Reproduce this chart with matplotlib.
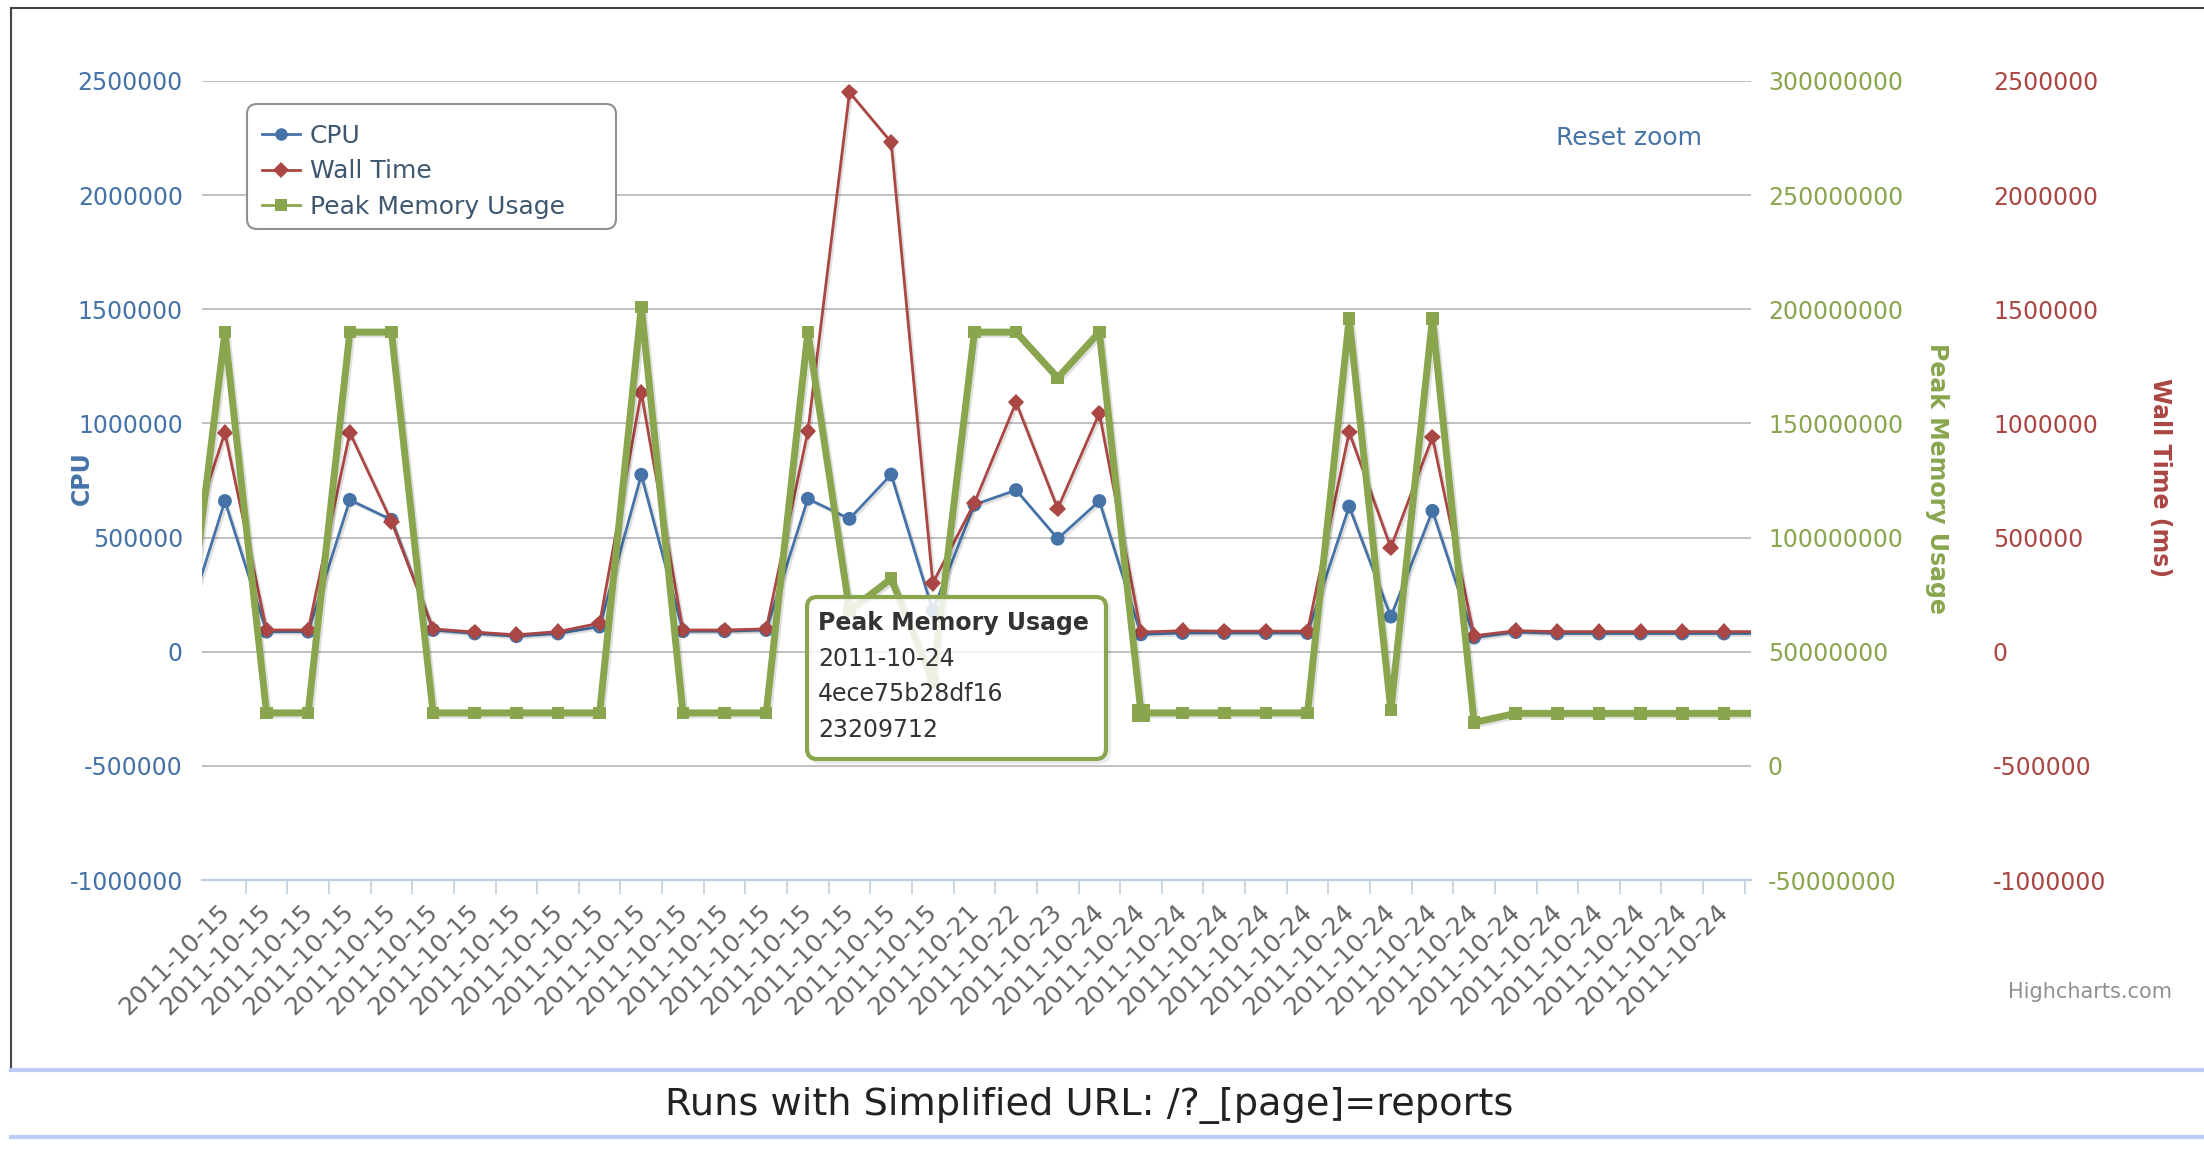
import numpy as np
import matplotlib
matplotlib.use('Agg')
import matplotlib.pyplot as plt
import matplotlib.patheffects as pe
import matplotlib.transforms as mtransforms
from matplotlib.patches import FancyBboxPatch
from matplotlib.lines import Line2D
from matplotlib.ticker import FuncFormatter

# zoomed window shows categories 0..36, plus one point either side (partly visible)
dates = ['2011-10-15'] * 19 + ['2011-10-21', '2011-10-22', '2011-10-23'] + ['2011-10-24'] * 17

cpu = [80000,
       660000, 88000, 88000, 665000, 578000, 95000, 80000, 68000, 80000, 110000,
       775000, 90000, 90000, 95000, 670000, 582000, 776000, 180000, 644000, 708000,
       495000, 660000, 76000, 82000, 82000, 82000, 82000, 636000, 154000, 617000,
       62000, 86000, 80000, 80000, 80000, 80000, 80000,
       80000]

wall_time = [400000,
             960000, 95000, 95000, 960000, 570000, 100000, 86000, 74000, 88000, 125000,
             1135000, 95000, 95000, 100000, 965000, 2450000, 2232000, 300000, 652000, 1092000,
             627000, 1045000, 86000, 92000, 90000, 90000, 90000, 962000, 456000, 940000,
             70000, 92000, 88000, 88000, 88000, 88000, 88000,
             88000]

peak_mem = [40000000,
            190000000, 23209712, 23209712, 190000000, 190000000, 23209712, 23209712, 23209712, 23209712, 23209712,
            201000000, 23209712, 23209712, 23209712, 190000000, 68000000, 82000000, 37000000, 190000000, 190000000,
            170000000, 190000000, 23209712, 23209712, 23209712, 23209712, 23209712, 196000000, 24500000, 196000000,
            19000000, 23000000, 23000000, 23000000, 23000000, 23000000, 23000000,
            23000000]

hover_idx = 22          # category of the hovered point
hover_run = '4ece75b28df16'

x = np.arange(-1, len(cpu) - 1)

BLUE = '#4572A7'
RED = '#AA4643'
GREEN = '#89A54E'

W, H = 2204, 1154
fig = plt.figure(figsize=(W / 100, H / 100), dpi=100)
plt.rcParams['font.family'] = ['DejaVu Sans']

L, R, T, B = 202, 1751, 81, 880
ax = fig.add_axes([L / W, 1 - B / H, (R - L) / W, (B - T) / H])
ax_wall = ax.twinx()
ax_mem = ax.twinx()
ax.set_zorder(1)
ax_wall.set_zorder(2)
ax_mem.set_zorder(3)

shadow = [pe.SimpleLineShadow(offset=(1.5, -1.5), shadow_color='black', alpha=0.12), pe.Normal()]

ax.plot(x, cpu, color=BLUE, lw=2, marker='o', ms=10, mew=0, path_effects=shadow)
ax_wall.plot(x, wall_time, color=RED, lw=2, marker='D', ms=8.5, mew=0, path_effects=shadow)
ax_mem.plot(x, peak_mem, color=GREEN, lw=5, marker='s', ms=9, mew=0, path_effects=shadow)
ax_mem.plot(x[hover_idx + 1], peak_mem[hover_idx + 1], color=GREEN, marker='s', ms=13, mew=0)

for a in (ax, ax_wall, ax_mem):
    for s in a.spines.values():
        s.set_visible(False)

int_fmt = FuncFormatter(lambda v, p: '%d' % v)

ax.set_ylim(-1000000, 2500000)
ax.set_yticks(np.arange(-1000000, 2500001, 500000))
ax.yaxis.set_major_formatter(int_fmt)
ax.tick_params(axis='y', length=0, pad=13.7, labelsize=17, labelcolor=BLUE)
ax.grid(axis='y', color='#C0C0C0', lw=1.4)
ax.set_axisbelow(True)
ax.spines['bottom'].set_visible(True)
ax.spines['bottom'].set_color('#C0D0E0')
ax.spines['bottom'].set_linewidth(1.6)
ax.spines['bottom'].set_zorder(3)

ax.set_xticks(x)
ax.set_xticklabels(dates)
ax.set_xticks(np.arange(0.5, 37, 1), minor=True)
ax.tick_params(axis='x', which='major', length=0, pad=14, labelsize=18, labelcolor='#666666')
ax.tick_params(axis='x', which='minor', length=10, width=1.2, color='#C0D0E0')
shift = mtransforms.ScaledTranslation(-0.08, 0, fig.dpi_scale_trans)
for lab in ax.get_xticklabels():
    lab.set_rotation(45)
    lab.set_ha('right')
    lab.set_va('top')
    lab.set_rotation_mode('anchor')
    lab.set_transform(lab.get_transform() + shift)

ax_mem.set_ylim(-50000000, 300000000)
ax_mem.set_yticks(np.arange(-50000000, 300000001, 50000000))
ax_mem.yaxis.set_major_formatter(int_fmt)
ax_mem.tick_params(axis='y', length=0, pad=12.2, labelsize=17, labelcolor=GREEN)

ax_wall.set_ylim(-1000000, 2500000)
ax_wall.set_yticks(np.arange(-1000000, 2500001, 500000))
ax_wall.yaxis.set_major_formatter(int_fmt)
ax_wall.spines['right'].set_position(('axes', (1993 - 17 - L) / (R - L)))
ax_wall.tick_params(axis='y', length=0, pad=12.2, labelsize=17, labelcolor=RED)

# set the zoom window last, after ticks (set_xticks widens the view)
for a in (ax, ax_wall, ax_mem):
    a.set_xlim(-0.55, 36.65)

# overlay in pixel coordinates for page furniture, legend and tooltip
ov = fig.add_axes([0, 0, 1, 1])
ov.set_xlim(0, W)
ov.set_ylim(H, 0)
ov.axis('off')
ov.patch.set_alpha(0)
ov.set_zorder(10)

ov.plot([11, W], [8, 8], color='#444444', lw=1.5)
ov.plot([11, 11], [8, 1068], color='#444444', lw=1.5)
ov.plot([11, W], [1070, 1070], color='#BCCBF5', lw=3)
ov.plot([11, W], [1137, 1137], color='#BCCBF5', lw=3)
ov.text(1089, 1105, 'Runs with Simplified URL: /?_[page]=reports', ha='center', va='center',
        fontsize=27.5, color='#222222')

ov.text(82, 478, 'CPU', rotation=90, ha='center', va='center', fontsize=17,
        fontweight='bold', color=BLUE)
ov.text(1937, 478, 'Peak Memory Usage', rotation=270, ha='center', va='center', fontsize=17,
        fontweight='bold', color=GREEN)
ov.text(2160, 478, 'Wall Time (ms)', rotation=270, ha='center', va='center', fontsize=17,
        fontweight='bold', color=RED)

ov.text(1556, 138, 'Reset zoom', ha='left', va='center', fontsize=18, color=BLUE)
ov.text(2172, 992, 'Highcharts.com', ha='right', va='center', fontsize=15, color='#909090')

# legend
ov.add_patch(FancyBboxPatch((247, 104), 369, 125, boxstyle='round,pad=0,rounding_size=10',
                            fc='white', ec='#909090', lw=1.5, zorder=1))
handles = [Line2D([], [], color=BLUE, lw=2, marker='o', ms=9, mew=0),
           Line2D([], [], color=RED, lw=2, marker='D', ms=8, mew=0),
           Line2D([], [], color=GREEN, lw=2, marker='s', ms=8, mew=0)]
leg = ov.legend(handles, ['CPU', 'Wall Time', 'Peak Memory Usage'], loc='upper left',
                bbox_to_anchor=(262, 124), bbox_transform=ov.transData, frameon=False,
                borderpad=0, borderaxespad=0, fontsize=18, handlelength=1.5,
                handletextpad=0.4, labelspacing=0.46, labelcolor='#3E576F')
leg.set_zorder(2)

# tooltip for hovered point
ov.add_patch(FancyBboxPatch((810, 600), 299, 162, boxstyle='round,pad=0,rounding_size=10',
                            fc='none', ec='black', lw=3, alpha=0.08, zorder=3))
ov.add_patch(FancyBboxPatch((807, 597), 299, 162, boxstyle='round,pad=0,rounding_size=10',
                            fc=(1, 1, 1, 0.85), ec=GREEN, lw=3, zorder=4))
tip_lines = ['Peak Memory Usage', dates[hover_idx + 1], hover_run, '%d' % peak_mem[hover_idx + 1]]
for k, t in enumerate(tip_lines):
    ov.text(818, 623 + 35.7 * k, t, ha='left', va='center', fontsize=17, color='#333333',
            fontweight='bold' if k == 0 else 'normal', zorder=5)

fig.savefig('out.png', dpi=100, facecolor='white')
